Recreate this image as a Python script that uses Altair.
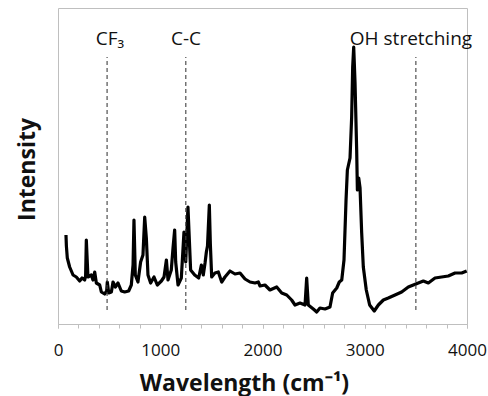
import altair as alt
import pandas as pd

wavenumber = [78, 82, 91, 114, 147, 179, 212, 235, 261, 270, 277, 293, 326, 342, 359, 375, 408, 424,
              456, 476, 482, 496, 522, 538, 561, 587, 619, 652, 691, 717, 734, 743, 756, 782, 808,
              831, 848, 864, 880, 906, 939, 971, 1011, 1037, 1060, 1076, 1108, 1125, 1141, 1151,
              1174, 1206, 1232, 1249, 1271, 1297, 1337, 1376, 1402, 1421, 1438, 1451, 1462, 1480,
              1490, 1503, 1535, 1568, 1601, 1633, 1682, 1731, 1780, 1829, 1878, 1927, 1959, 1976,
              2024, 2073, 2139, 2188, 2237, 2285, 2318, 2367, 2416, 2432, 2448, 2497, 2530, 2562,
              2611, 2660, 2686, 2726, 2751, 2775, 2797, 2817, 2830, 2856, 2872, 2882, 2892, 2905,
              2921, 2928, 2941, 2954, 2970, 2986, 3015, 3048, 3093, 3133, 3182, 3230, 3296, 3361,
              3426, 3475, 3524, 3573, 3622, 3687, 3752, 3817, 3883, 3948, 3997]
intensity = [89, 78, 66, 57, 49, 47, 43, 46, 44, 48, 84, 47, 49, 44, 52, 41, 39, 32,
             30, 33, 42, 31, 32, 42, 37, 41, 33, 32, 33, 39, 59, 104, 49, 42, 62,
             69, 107, 86, 49, 41, 47, 39, 43, 47, 64, 44, 54, 76, 94, 62,
             39, 46, 92, 62, 117, 54, 49, 46, 59, 49, 61, 72, 78, 119,
             80, 47, 51, 52, 42, 47, 53, 50, 51, 45, 42, 41, 42, 38,
             39, 34, 37, 31, 29, 24, 19, 21, 19, 46, 19, 15, 12, 16,
             15, 17, 31, 36, 42, 44, 64, 124, 154, 166, 207, 257, 277, 241,
             174, 134, 146, 136, 91, 57, 34, 19, 13, 19, 24, 26, 29, 32,
             37, 39, 41, 43, 41, 46, 47, 48, 51, 51, 53]

major_ticks = [0, 1000, 2000, 3000, 4000]
minor_ticks = list(range(0, 4001, 200))

marker_x = [480, 1250, 3500]
marker_top = [267, 267, 267]
marker_bottom = [14, 14, 14]

label_text = ["CF\u2083", "C-C", "OH stretching"]
label_x = [508, 1252, 3452]
label_y = [279, 279, 279]

spec = pd.DataFrame({"w": wavenumber, "i": intensity})
markers = pd.DataFrame({"x": marker_x, "y1": marker_bottom, "y2": marker_top})
labels = pd.DataFrame({"x": label_x, "y": label_y, "t": label_text})

FONT = "Open Sans"
GRAY = "#bfbfbf"

xscale = alt.Scale(domain=[0, 4000], nice=False)
yscale = alt.Scale(domain=[0, 316], nice=False, zero=True)

line = alt.Chart(spec).mark_line(color="black", strokeWidth=3.2, strokeJoin="round").encode(
    x=alt.X("w:Q", scale=xscale,
            axis=alt.Axis(title="Wavelength (cm\u207b\u00b9)", values=major_ticks, format="d",
                          orient="bottom", labelOverlap=False, labelFlush=False, grid=False,
                          domainColor=GRAY, tickColor=GRAY, tickSize=4, labelPadding=14,
                          labelFont=FONT, labelFontSize=17, labelColor="#111",
                          titleFont=FONT, titleFontSize=23, titleFontWeight="bold", titleColor="#111",
                          titleX=186, titleY=66, titleBaseline="alphabetic", titleAlign="center")),
    y=alt.Y("i:Q", scale=yscale,
            axis=alt.Axis(title="Intensity", orient="left", labels=False, ticks=False, domain=False,
                          grid=False,
                          titleFont=FONT, titleFontSize=23, titleFontWeight="bold", titleColor="#111",
                          titleX=-31, titleY=161, titleAngle=-90,
                          titleBaseline="middle", titleAlign="center")),
)

rules = alt.Chart(markers).mark_rule(color="#404040", strokeWidth=1.1, strokeDash=[4, 3]).encode(
    x=alt.X("x:Q", scale=xscale,
            axis=alt.Axis(title=None, values=minor_ticks, orient="bottom", labels=False,
                          domain=False, grid=False, tickColor=GRAY, tickSize=4)),
    y=alt.Y("y1:Q", scale=yscale, axis=None),
    y2="y2:Q",
)

texts = alt.Chart(labels).mark_text(font=FONT, fontSize=19, color="#111", baseline="alphabetic",
                                    align="center").encode(
    x=alt.X("x:Q", scale=xscale, axis=None),
    y=alt.Y("y:Q", scale=yscale, axis=None),
    text="t:N",
)

chart = alt.layer(line, rules, texts).resolve_axis(x="independent", y="independent").properties(
    width=409, height=316,
    autosize=alt.AutoSizeParams(type="none"),
    padding={"left": 58, "top": 8, "right": 21, "bottom": 72},
).configure_view(stroke=GRAY, strokeWidth=1)

chart.save("out.html", embed_options={"renderer": "svg", "actions": False})
